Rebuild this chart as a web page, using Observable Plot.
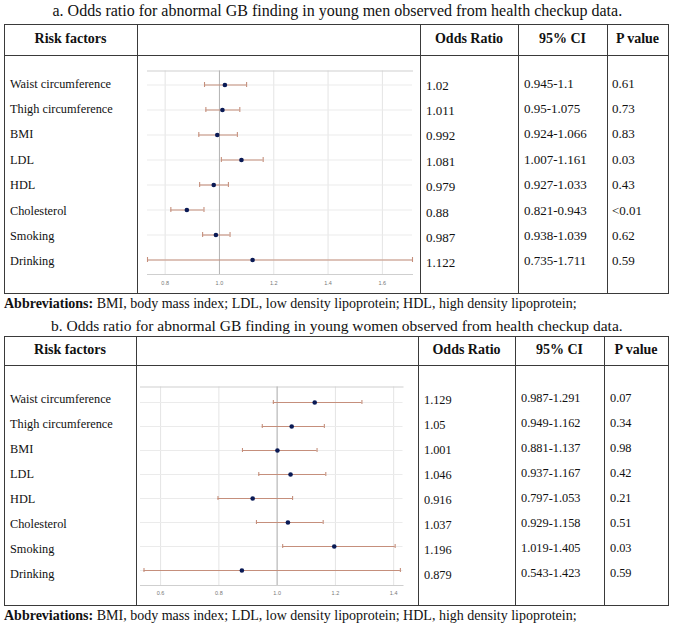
<!DOCTYPE html>
<html><head><meta charset="utf-8">
<script src="https://cdn.jsdelivr.net/npm/d3@7"></script>
<script src="https://cdn.jsdelivr.net/npm/@observablehq/plot@0.6"></script>
<style>
body{margin:0;background:#fff;color:#111;}
#page{position:relative;width:673px;height:625px;overflow:hidden;background:#fff;font-family:"Liberation Serif","Tinos","DejaVu Serif",serif;}
.t{position:absolute;white-space:nowrap;line-height:1;transform:translateY(-50%)}
.c{transform:translate(-50%,-50%)}
.h{font-weight:bold;font-size:14px}
.ln{position:absolute;background:#3a3a3a}
.pl{position:absolute}
</style></head><body><div id="page"></div>
<script>
// ---- data ----
const factors = ["Waist circumference","Thigh circumference","BMI","LDL","HDL","Cholesterol","Smoking","Drinking"];
const headers = ["Risk factors","","Odds Ratio","95% CI","P value"];
const titleA = "a. Odds ratio for abnormal GB finding in young men observed from health checkup data.";
const titleB = "b. Odds ratio for abnormal GB finding in young women observed from health checkup data.";
const abbrevBold = "Abbreviations:";
const abbrevText = " BMI, body mass index; LDL, low density lipoprotein; HDL, high density lipoprotein;";

const menOR   = [1.02, 1.011, 0.992, 1.081, 0.979, 0.88, 0.987, 1.122];
const menLo   = [0.945, 0.95, 0.924, 1.007, 0.927, 0.821, 0.938, 0.735];
const menHi   = [1.1, 1.075, 1.066, 1.161, 1.033, 0.943, 1.039, 1.711];
const menORtxt = ["1.02","1.011","0.992","1.081","0.979","0.88","0.987","1.122"];
const menCItxt = ["0.945-1.1","0.95-1.075","0.924-1.066","1.007-1.161","0.927-1.033","0.821-0.943","0.938-1.039","0.735-1.711"];
const menP     = ["0.61","0.73","0.83","0.03","0.43","<0.01","0.62","0.59"];
const menTicks = [0.8, 1.0, 1.2, 1.4, 1.6];

const womenOR  = [1.129, 1.05, 1.001, 1.046, 0.916, 1.037, 1.196, 0.879];
const womenLo  = [0.987, 0.949, 0.881, 0.937, 0.797, 0.929, 1.019, 0.543];
const womenHi  = [1.291, 1.162, 1.137, 1.167, 1.053, 1.158, 1.405, 1.423];
const womenORtxt = ["1.129","1.05","1.001","1.046","0.916","1.037","1.196","0.879"];
const womenCItxt = ["0.987-1.291","0.949-1.162","0.881-1.137","0.937-1.167","0.797-1.053","0.929-1.158","1.019-1.405","0.543-1.423"];
const womenP     = ["0.07","0.34","0.98","0.42","0.21","0.51","0.03","0.59"];
const womenTicks = [0.6, 0.8, 1.0, 1.2, 1.4];

const refValue = 1;

// ---- helpers ----
const page = document.getElementById("page");
function el(cls, css, html){ const d=document.createElement("div"); d.className=cls; Object.assign(d.style,css); if(html!==undefined) d.innerHTML=html; page.appendChild(d); return d; }
function hline(x1,x2,y){ el("ln",{left:x1+"px",top:y+"px",width:(x2-x1+1)+"px",height:"1px"}); }
function vline(x,y1,y2){ el("ln",{left:x+"px",top:y1+"px",width:"1px",height:(y2-y1+1)+"px"}); }

function forest(rows, g){
  const barColor = "#c58f7c";
  return Plot.plot({
    width: g.w, height: g.h,
    marginLeft: g.mL, marginRight: g.mR, marginTop: g.mT, marginBottom: g.mB,
    style: {background:"transparent", fontFamily:"'Liberation Sans', sans-serif", overflow:"visible"},
    x: {domain: g.domain, ticks: g.ticks},
    y: {domain: factors, padding: 0, axis: null},
    marks: [
      Plot.gridX({ticks: g.ticks, stroke:"#e4e4e4", strokeOpacity:1}),
      Plot.gridY({stroke:"#ebebeb", strokeOpacity:1}),
      Plot.frame({anchor:"top", stroke:"#cfcfcf"}),
      Plot.frame({anchor:"bottom", stroke:"#cfcfcf"}),
      Plot.ruleX([refValue], {stroke:"#b4b4b4"}),
      Plot.ruleY(rows, {x1:"lo", x2:"hi", y:"f", stroke:barColor, strokeWidth:1.1}),
      Plot.tickX(rows, {x:"lo", y:"f", stroke:barColor, strokeWidth:1.1, insetTop:g.cap, insetBottom:g.cap}),
      Plot.tickX(rows, {x:"hi", y:"f", stroke:barColor, strokeWidth:1.1, insetTop:g.cap, insetBottom:g.cap}),
      Plot.dot(rows, {x:"or", y:"f", r:2.3, fill:"#0a1a55", stroke:null}),
      Plot.axisX({ticks: g.ticks, tickSize:0, tickPadding:g.tp, fontSize:5.5, fill:"#777", tickFormat:".1f"})
    ]
  });
}

function table(T){
  el("t", {left:T.titleX+"px", top:T.titleY+"px", fontSize:T.titleFs+"px"}, T.title);
  const [L, c1, c2, c3, c4, R] = T.cols;
  hline(L, R, T.top); hline(L, R, T.hb); hline(L, R, T.bot);
  [L,c1,c2,c3,c4,R].forEach(x=>vline(x, T.top, T.bot));
  const centers = [(L+c1)/2,(c1+c2)/2,(c2+c3)/2,(c3+c4)/2,(c4+R)/2];
  headers.forEach((h,i)=>{ if(h) el("t c h",{left:centers[i]+"px", top:T.hy+"px"}, h); });
  factors.forEach((f,i)=>{
    const y = T.r0 + i*T.rs;
    el("t",{left:T.tx[0]+"px", top:y+"px", fontSize:T.fs[0]+"px"}, f);
    el("t",{left:T.tx[1]+"px", top:(y+T.dy)+"px", fontSize:T.fs[1]+"px"}, T.or[i]);
    el("t",{left:T.tx[2]+"px", top:(y-1)+"px", fontSize:T.fs[1]+"px"}, T.ci[i]);
    el("t",{left:T.tx[3]+"px", top:(y-1)+"px", fontSize:T.fs[1]+"px"}, T.p[i]);
  });
  const rows = factors.map((f,i)=>({f, or:T.vals[0][i], lo:T.vals[1][i], hi:T.vals[2][i]}));
  const holder = el("pl",{left:(c1+1)+"px", top:(T.hb+1)+"px"});
  holder.appendChild(forest(rows, T.g));
  el("t",{left:"4px", top:T.abY+"px", fontSize:"14px"}, "<b>"+abbrevBold+"</b>"+abbrevText);
}

table({
  title:titleA, titleX:52.5, titleY:10.5, titleFs:16,
  cols:[4,137,420,518,607,668], top:24, hb:55, bot:293, hy:38.5,
  r0:83.5, rs:25.4, dy:1, tx:[10,426,524,612], fs:[12.3,13],
  or:menORtxt, ci:menCItxt, p:menP, vals:[menOR,menLo,menHi],
  g:{w:282, h:237, mL:9, mR:8, mT:14.5, mB:19, domain:[0.735,1.711], ticks:menTicks, tp:7, cap:10},
  abY:304
});
table({
  title:titleB, titleX:51, titleY:326, titleFs:15.5,
  cols:[4,136,418,515,604,668], top:336, hb:365, bot:605, hy:350,
  r0:399, rs:24.96, dy:1, tx:[10,424,521,610], fs:[12.3,12.3],
  or:womenORtxt, ci:womenCItxt, p:womenP, vals:[womenOR,womenLo,womenHi],
  g:{w:281, h:239, mL:3, mR:15.5, mT:20.5, mB:20, domain:[0.531,1.432], ticks:womenTicks, tp:6, cap:10},
  abY:616
});
</script>
</body></html>
